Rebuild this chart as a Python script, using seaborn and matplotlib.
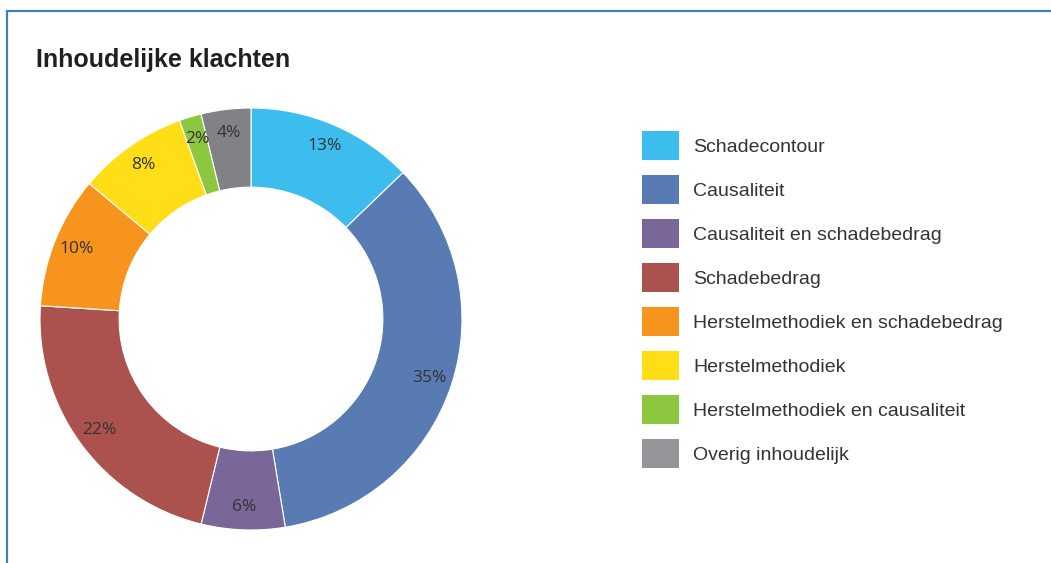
import matplotlib
matplotlib.use("Agg")
import matplotlib.pyplot as plt
from matplotlib.patches import Patch
from matplotlib.lines import Line2D
import seaborn as sns

categories = ["Schadecontour", "Causaliteit", "Causaliteit en schadebedrag",
              "Schadebedrag", "Herstelmethodiek en schadebedrag", "Herstelmethodiek",
              "Herstelmethodiek en causaliteit", "Overig inhoudelijk"]
# shares (labels show the rounded values)
values = [12.8, 34.6, 6.4, 22.2, 10.1, 8.4, 1.7, 3.8]
pie_colors = ["#3DBDED", "#587BB3", "#7A6699", "#AB524E", "#F7941E", "#FFDD17",
              "#8DC63F", "#808285"]
legend_colors = ["#3DBDED", "#587BB3", "#7A6699", "#AB524E", "#F7941E", "#FFDD17",
                 "#8DC63F", "#939598"]
title = "Inhoudelijke klachten"

sns.set_theme(style="white")
plt.rcParams["font.family"] = ["Liberation Sans", "DejaVu Sans"]
palette = sns.color_palette(pie_colors)

W, H = 1051, 563
fig = plt.figure(figsize=(W / 100, H / 100), dpi=100)
fig.patch.set_facecolor("white")

# pie axes: center (251,319), radius 211 px
r = 211
cx, cy = 251, 319
ax = fig.add_axes([(cx - r) / W, (H - cy - r) / H, 2 * r / W, 2 * r / H])
wedges, texts, autotexts = ax.pie(
    values, colors=palette, startangle=90, counterclock=False,
    autopct=lambda p: f"{round(p):d}%", pctdistance=0.89, radius=1.0,
    wedgeprops=dict(width=0.375, edgecolor="white", linewidth=0.8),
    textprops=dict(color="#333333", fontsize=12.5,
                   family=["Open Sans", "DejaVu Sans"]))
ax.set_xlim(-1, 1)
ax.set_ylim(-1, 1)
ax.set_aspect("equal")
ax.axis("off")

# title
fig.text(36 / W, 1 - 60 / H, title, fontsize=18, fontweight="bold",
         color="#231F20", va="center", ha="left")

# legend
handles = [Patch(facecolor=c, edgecolor="none") for c in legend_colors]
fs = 14
leg = fig.legend(handles, categories, loc="upper left",
                 bbox_to_anchor=(642 / W, 1 - 131 / H), frameon=False,
                 fontsize=fs, handlelength=1.9, handleheight=1.92,
                 handletextpad=0.72, labelspacing=0.77, borderpad=0,
                 borderaxespad=0)
for t in leg.get_texts():
    t.set_color("#333333")

# blue frame lines (top and left)
fc = "#3F7FC0"
fig.add_artist(Line2D([7 / W, 1], [1 - 11 / H, 1 - 11 / H], color=fc, lw=1.6,
                      transform=fig.transFigure))
fig.add_artist(Line2D([7 / W, 7 / W], [0, 1 - 11 / H], color=fc, lw=1.6,
                      transform=fig.transFigure))

fig.savefig("out.png", dpi=100, facecolor="white")
